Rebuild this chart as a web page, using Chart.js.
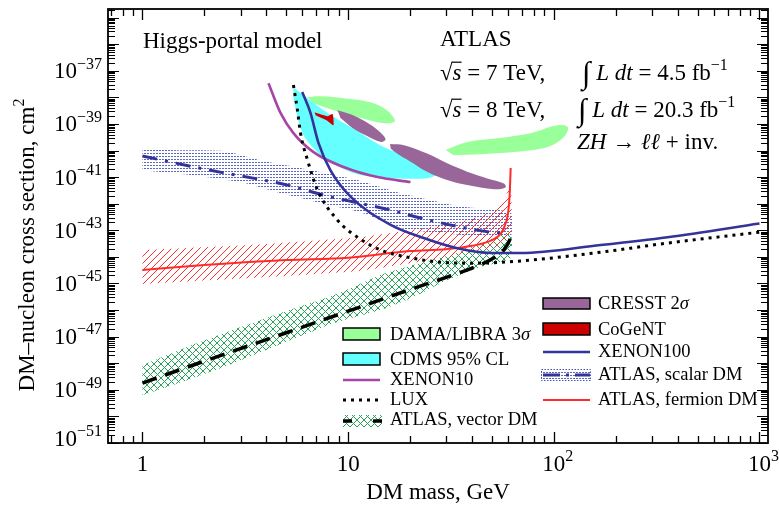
<!DOCTYPE html>
<html lang="en">
<head>
<meta charset="UTF-8">
<title>Higgs-portal model: DM–nucleon cross section</title>
<script src="https://cdn.jsdelivr.net/npm/chart.js@4"></script>
<style>
  html, body { margin: 0; padding: 0; background: #fff; }
  #wrap { position: relative; width: 779px; height: 507px; }
</style>
</head>
<body>
<div id="wrap"><canvas id="dmChart"></canvas></div>
<script>
// values: DM mass in GeV, cross section in cm^2

// ATLAS, vector DM (dashed line + cross-hatched band)
const vectorMass  = [1, 2, 5, 10, 20, 30, 40, 50, 57, 61, 62.5];
const vectorSigma = [1.8e-49, 1.2e-48, 1.4e-47, 9.1e-47, 5.9e-46, 1.7e-45, 3.8e-45, 8.3e-45, 1.8e-44, 4.3e-44, 8e-44];
const vectorBandMass  = [1, 1.65, 2.77, 4.85, 8.49, 14.4, 23.3, 34, 45.6, 61.6, 61.6, 44, 30.4, 20.8, 14.4, 8.49, 4.85, 2.77, 1.65, 1];
const vectorBandSigma = [8.5e-49, 4.1e-48, 1.8e-47, 8.4e-47, 3.6e-46, 2.1e-45, 6.4e-45, 1.4e-44, 3.6e-44, 8.5e-44,
                         8.9e-45, 4.2e-45, 1.35e-45, 3.1e-46, 1.0e-46, 3.2e-47, 5.8e-48, 1.0e-48, 2.3e-49, 6.3e-50];

// ATLAS, fermion DM (solid red line + hatched band)
const fermionMass  = [1, 2, 5, 10, 20, 30, 40, 50, 55, 58, 60, 61, 61.7];
const fermionSigma = [3.2e-45, 4.9e-45, 7.6e-45, 9.3e-45, 1.65e-44, 1.95e-44, 2.6e-44, 4.3e-44, 7.2e-44, 1.6e-43, 4.8e-43, 2.1e-42, 2.2e-41];
const fermionBandMass  = [1, 3.3, 11.3, 23, 35, 49, 57, 60.3, 62, 62, 52, 40, 29, 20, 11, 3.3, 1];
const fermionBandSigma = [1.8e-44, 2.8e-44, 5.5e-44, 1.2e-43, 2.0e-43, 4.8e-43, 1.4e-42, 3.3e-42, 3.3e-42,
                          5.5e-44, 2.3e-44, 1.5e-44, 8.9e-45, 5.8e-45, 2.9e-45, 1.6e-45, 9.5e-46];

// ATLAS, scalar DM (dash-dot line + dotted band)
const scalarMass  = [1, 2.14, 5.07, 7.6, 16.1, 23.8, 34, 49.3, 58.3];
const scalarSigma = [6.2e-41, 1.8e-41, 5.0e-42, 2.1e-42, 5.7e-43, 2.6e-43, 1.4e-43, 8.5e-44, 7.8e-44];
const scalarBandMass  = [1, 2.48, 3.88, 5.87, 11.1, 18, 34, 61.6, 61.6, 31.5, 18, 11.5, 7.34, 4.69, 3.0, 1.71, 1];
const scalarBandSigma = [1.05e-40, 9.6e-41, 4.0e-41, 2.2e-41, 7.8e-42, 2.5e-42, 8.1e-43, 4.8e-43,
                         6.0e-44, 7.2e-44, 1.2e-43, 4.8e-43, 1.05e-42, 2.5e-42, 6.5e-42, 1.2e-41, 1.8e-41];

// direct detection limits
const xenon100Mass  = [5.98, 6.56, 7.18, 8.21, 10.3, 16.1, 23.3, 34, 49.3, 68.9, 169, 357, 1000];
const xenon100Sigma = [1.6e-38, 2.6e-39, 1.9e-40, 1.8e-41, 1.8e-42, 1.6e-43, 5.1e-44, 2.1e-44, 1.4e-44, 1.4e-44, 2.8e-44, 5.5e-44, 1.8e-43];
const luxMass  = [5.42, 5.67, 5.87, 6.35, 7.10, 8.88, 11.1, 14.4, 19.4, 28.1, 40.7, 68.9, 169, 357, 1000];
const luxSigma = [2.9e-38, 3.3e-39, 4.5e-40, 4.3e-41, 3.3e-42, 2.4e-43, 5.5e-44, 1.8e-44, 9.8e-45, 6.3e-45, 5.8e-45, 7.0e-45, 1.5e-44, 3.3e-44, 8.5e-44];
const xenon10Mass  = [4.10, 4.69, 5.42, 6.79, 9.5, 13.9, 20.1];
const xenon10Sigma = [3.4e-38, 2.6e-39, 4.5e-40, 8.7e-41, 2.4e-41, 1.0e-41, 6.5e-42];

// signal regions (closed contours)
const cdmsMass  = [5.42, 6.35, 7.94, 10.3, 14.9, 21.7, 26.0, 27.5, 24.3, 16.6, 11.5, 8.68, 7.18, 6.14, 5.67, 5.42];
const cdmsSigma = [2.4e-38, 9.3e-39, 2.6e-39, 7.6e-40, 1.35e-40, 4.4e-41, 2.1e-41, 1.4e-41, 9.1e-42, 9.1e-42, 1.2e-41, 2.8e-41, 7.9e-41, 3.2e-40, 1.8e-39, 1.0e-38];
const cogentMass  = [6.87, 7.94, 8.40, 8.49, 7.94, 6.95];
const cogentSigma = [2.75e-39, 1.95e-39, 2.35e-39, 8.9e-40, 1.3e-39, 2.1e-39];
const cresstAMass  = [8.88, 10.3, 12.2, 14.1, 15.2, 14.5, 12.3, 10.5, 9.18];
const cresstASigma = [3.3e-39, 2.3e-39, 1.2e-39, 5.4e-40, 2.7e-40, 2.1e-40, 3.6e-40, 7.1e-40, 1.66e-39];
const cresstBMass  = [16.0, 18.7, 24.2, 30.3, 37.9, 47.5, 57.2, 58.3, 51.2, 37.9, 30.3, 24.2, 20.1, 17.3, 16.1];
const cresstBSigma = [1.74e-40, 1.58e-40, 7.7e-41, 3.3e-41, 1.6e-41, 8.9e-42, 5.7e-42, 4.1e-42, 3.5e-42, 5.0e-42, 7.8e-42, 1.6e-41, 3.8e-41, 7.7e-41, 1.2e-40];
const damaAMass  = [6.35, 7.34, 9.5, 12.8, 15.2, 16.6, 16.8, 14.9, 11.5, 8.21, 6.79];
const damaASigma = [1.02e-38, 1.1e-38, 9.3e-39, 6.6e-39, 3.6e-39, 1.8e-39, 1.2e-39, 1.07e-39, 1.66e-39, 3.6e-39, 6.0e-39];
const damaBMass  = [29.8, 38.1, 53.3, 77.1, 104, 117, 112, 93.3, 63.7, 44.0, 32.6];
const damaBSigma = [1.05e-40, 2.1e-40, 2.9e-40, 4.5e-40, 8.9e-40, 7.6e-40, 3.2e-40, 1.35e-40, 8.7e-41, 7.3e-41, 6.7e-41];

// axis ticks
const xTickValues = [1, 10, 100, 1000];
const xTickExps   = ['', '', '2', '3'];
const yTickExps   = [-51, -49, -47, -45, -43, -41, -39, -37];

const fontStack = '"Liberation Serif", "DejaVu Serif", serif';
const canvas = document.getElementById('dmChart');
const ctx0 = canvas.getContext('2d');

function makePattern(size, draw) {
  const c = document.createElement('canvas');
  c.width = size; c.height = size;
  draw(c.getContext('2d'), size);
  return ctx0.createPattern(c, 'repeat');
}
const redHatch = makePattern(7, (g, s) => {
  g.strokeStyle = '#ff3030'; g.lineWidth = 1;
  g.beginPath();
  g.moveTo(0, s); g.lineTo(s, 0);
  g.moveTo(-1, 1); g.lineTo(1, -1);
  g.moveTo(s - 1, s + 1); g.lineTo(s + 1, s - 1);
  g.stroke();
});
const greenCross = makePattern(7, (g, s) => {
  g.strokeStyle = '#27a357'; g.lineWidth = 1;
  g.beginPath();
  g.moveTo(0, s); g.lineTo(s, 0);
  g.moveTo(0, 0); g.lineTo(s, s);
  g.stroke();
});
const blueDots = makePattern(3, (g) => {
  g.fillStyle = '#5a68c4';
  g.fillRect(0, 0, 2, 1);
});

function pts(ms, ss) { return ms.map((m, i) => ({x: m, y: ss[i]})); }

function lineSet(label, ms, ss, color, width, dash) {
  return {label, data: pts(ms, ss), borderColor: color, borderWidth: width, borderDash: dash || [],
          pointRadius: 0, fill: false, cubicInterpolationMode: 'monotone'};
}
function shapeSet(label, ms, ss, fillStyle, tension) {
  return {label, data: pts(ms, ss), borderColor: 'rgba(0,0,0,0)', borderWidth: 1, backgroundColor: fillStyle,
          fill: 'shape', pointRadius: 0, tension: tension};
}

// first dataset is drawn on top
const datasets = [
  shapeSet('CoGeNT', cogentMass, cogentSigma, '#cc0000', 0.2),
  lineSet('XENON100', xenon100Mass, xenon100Sigma, '#333399', 2.6),
  lineSet('LUX', luxMass, luxSigma, '#000000', 3, [3, 5]),
  lineSet('XENON10', xenon10Mass, xenon10Sigma, '#a645a6', 2.6),
  lineSet('ATLAS, fermion DM', fermionMass, fermionSigma, '#ff2a2a', 2),
  lineSet('ATLAS, scalar DM', scalarMass, scalarSigma, '#333399', 3, [15, 8, 3, 8]),
  lineSet('ATLAS, vector DM', vectorMass, vectorSigma, '#000000', 3.5, [15, 9]),
  shapeSet('CRESST 2σ', cresstAMass, cresstASigma, '#996699', 0.35),
  shapeSet('CRESST 2σ', cresstBMass, cresstBSigma, '#996699', 0.35),
  shapeSet('DAMA/LIBRA 3σ', damaAMass, damaASigma, '#99ff99', 0.35),
  shapeSet('DAMA/LIBRA 3σ', damaBMass, damaBSigma, '#99ff99', 0.35),
  shapeSet('CDMS 95% CL', cdmsMass, cdmsSigma, '#66ffff', 0.3),
  shapeSet('fermion band', fermionBandMass, fermionBandSigma, redHatch, 0.15),
  shapeSet('vector band', vectorBandMass, vectorBandSigma, greenCross, 0.15),
  shapeSet('scalar band', scalarBandMass, scalarBandSigma, blueDots, 0.15)
];

function setFont(ctx, size, italic) {
  ctx.font = (italic ? 'italic ' : '') + size + 'px ' + fontStack;
}
// parts: [text, flags]  flags: i = italic, s = superscript, o = overline, b = big symbol
function partSize(f, size) {
  if (f.includes('s')) return Math.round(size * 0.7);
  if (f.includes('b')) return Math.round(size * 1.35);
  return size;
}
function rich(ctx, x, y, parts, size, align) {
  const widths = parts.map(([t, f = '']) => {
    setFont(ctx, partSize(f, size), f.includes('i'));
    return ctx.measureText(t).width;
  });
  const total = widths.reduce((a, b) => a + b, 0);
  let cx = align === 'right' ? x - total : align === 'center' ? x - total / 2 : x;
  parts.forEach(([t, f = ''], i) => {
    setFont(ctx, partSize(f, size), f.includes('i'));
    let yy = y;
    if (f.includes('s')) yy = y - size * 0.42;
    if (f.includes('b')) yy = y + size * 0.12;
    ctx.fillText(t, cx, yy);
    if (f.includes('o')) ctx.fillRect(cx - 1, y - size * 0.8, widths[i] + 1, 1.2);
    cx += widths[i];
  });
  return total;
}

const findSet = (chart, label) => chart.data.datasets.find(d => d.label === label);

const decorations = {
  id: 'decorations',
  afterDatasetsDraw(chart) {
    const {ctx, chartArea: a, scales: {x, y}} = chart;
    ctx.save();
    ctx.textAlign = 'left';
    ctx.textBaseline = 'alphabetic';
    ctx.fillStyle = '#000';
    ctx.strokeStyle = '#000';

    // inward tick marks on all four sides
    ctx.lineWidth = 1.3;
    ctx.beginPath();
    for (let d = -1; d <= 3; d++) {
      for (let k = 1; k <= 9; k++) {
        const v = k * Math.pow(10, d);
        if (v <= x.min || v >= x.max) continue;
        const px = Math.round(x.getPixelForValue(v)) + 0.5;
        const len = k === 1 ? 11 : 7;
        ctx.moveTo(px, a.bottom); ctx.lineTo(px, a.bottom - len);
        ctx.moveTo(px, a.top); ctx.lineTo(px, a.top + len);
      }
    }
    ctx.stroke();
    ctx.lineWidth = 1.1;
    ctx.beginPath();
    for (let d = -51; d <= -35; d++) {
      for (let k = 1; k <= 9; k++) {
        const lv = d + Math.log10(k);
        if (lv < -51 - 1e-9 || lv > Math.log10(y.max)) continue;
        const py = Math.round(y.getPixelForValue(Math.pow(10, lv))) + 0.5;
        const len = k === 1 ? 11 : 7;
        ctx.moveTo(a.left, py); ctx.lineTo(a.left + len, py);
        ctx.moveTo(a.right, py); ctx.lineTo(a.right - len, py);
      }
    }
    ctx.stroke();
    ctx.lineWidth = 1.8;
    ctx.strokeRect(a.left, a.top, a.right - a.left, a.bottom - a.top);

    // tick labels
    yTickExps.forEach(e => {
      const py = y.getPixelForValue(Math.pow(10, e));
      rich(ctx, 102, Math.min(py + 7.5, 446), [['10'], ['−' + Math.abs(e), 's']], 23, 'right');
    });
    xTickValues.forEach((v, i) => {
      const px = x.getPixelForValue(v);
      const base = v === 1 ? '1' : '10';
      setFont(ctx, 23, false);
      const w = ctx.measureText(base).width;
      rich(ctx, px - w / 2, 471, xTickExps[i] ? [[base], [xTickExps[i], 's']] : [[base]], 23, 'left');
    });

    // axis titles
    rich(ctx, (a.left + a.right) / 2, 499, [['DM mass, GeV']], 23, 'center');
    ctx.save();
    ctx.translate(34, 245);
    ctx.rotate(-Math.PI / 2);
    rich(ctx, 0, 0, [['DM–nucleon cross section, cm'], ['2', 's']], 23, 'center');
    ctx.restore();

    // annotations
    rich(ctx, 143, 48, [['Higgs-portal model']], 23);
    rich(ctx, 440, 46, [['ATLAS']], 23);
    rich(ctx, 440, 80, [['√'], ['s', 'io'], [' = 7 TeV,']], 23);
    rich(ctx, 582, 80, [['∫', 'b'], [' '], ['L', 'i'], [' '], ['dt', 'i'], [' = 4.5 fb'], ['−1', 's']], 23);
    rich(ctx, 440, 117, [['√'], ['s', 'io'], [' = 8 TeV,']], 23);
    rich(ctx, 578, 117, [['∫', 'b'], [' '], ['L', 'i'], [' '], ['dt', 'i'], [' = 20.3 fb'], ['−1', 's']], 23);
    rich(ctx, 577, 149, [['ZH', 'i'], [' → '], ['ℓℓ', 'i'], [' + inv.']], 23);

    // legend helpers
    const box = (bx, by, w, h, fill) => {
      ctx.fillStyle = fill; ctx.fillRect(bx, by, w, h);
      ctx.lineWidth = 1.5; ctx.strokeStyle = '#000'; ctx.setLineDash([]);
      ctx.strokeRect(bx, by, w, h);
      ctx.fillStyle = '#000';
    };
    const seg = (x1, x2, yy, ds, dash) => {
      ctx.beginPath();
      ctx.strokeStyle = ds.borderColor; ctx.lineWidth = ds.borderWidth;
      ctx.setLineDash(dash || ds.borderDash || []);
      ctx.moveTo(x1, yy); ctx.lineTo(x2, yy); ctx.stroke();
      ctx.setLineDash([]);
    };
    const lt = 18.5;

    // legend, left column
    box(343, 328, 37, 12, findSet(chart, 'DAMA/LIBRA 3σ').backgroundColor);
    rich(ctx, 390, 340, [['DAMA/LIBRA 3'], ['σ', 'i']], lt);
    box(343, 353, 37, 12, findSet(chart, 'CDMS 95% CL').backgroundColor);
    rich(ctx, 390, 365, [['CDMS 95% CL']], lt);
    seg(343, 380, 380, findSet(chart, 'XENON10'));
    rich(ctx, 390, 385, [['XENON10']], lt);
    seg(343, 380, 400, findSet(chart, 'LUX'));
    rich(ctx, 390, 405, [['LUX']], lt);
    ctx.fillStyle = findSet(chart, 'vector band').backgroundColor;
    ctx.fillRect(343, 415, 39, 12);
    ctx.fillStyle = '#000';
    seg(343, 382, 421, findSet(chart, 'ATLAS, vector DM'), [9, 21]);
    rich(ctx, 390, 425, [['ATLAS, vector DM']], lt);

    // legend, right column
    box(543, 298, 47, 11, findSet(chart, 'CRESST 2σ').backgroundColor);
    rich(ctx, 598, 309, [['CRESST 2'], ['σ', 'i']], lt);
    box(543, 323, 47, 12, findSet(chart, 'CoGeNT').backgroundColor);
    rich(ctx, 598, 335, [['CoGeNT']], lt);
    seg(543, 590, 352, findSet(chart, 'XENON100'));
    rich(ctx, 598, 357, [['XENON100']], lt);
    ctx.fillStyle = findSet(chart, 'scalar band').backgroundColor;
    ctx.fillRect(541, 370, 50, 10);
    ctx.strokeStyle = '#4655b5'; ctx.lineWidth = 1; ctx.setLineDash([1.5, 1.5]);
    ctx.strokeRect(541.5, 369.5, 49, 11);
    ctx.setLineDash([]);
    ctx.fillStyle = '#000';
    seg(543, 590, 375, findSet(chart, 'ATLAS, scalar DM'), [17, 6, 3, 6]);
    rich(ctx, 598, 380, [['ATLAS, scalar DM']], lt);
    seg(543, 590, 400, findSet(chart, 'ATLAS, fermion DM'));
    rich(ctx, 598, 405, [['ATLAS, fermion DM']], lt);

    ctx.restore();
  }
};

new Chart(canvas, {
  type: 'line',
  data: {datasets},
  options: {
    responsive: true,
    maintainAspectRatio: false,
    animation: false,
    events: [],
    layout: {padding: {top: 9, right: 11, left: 0, bottom: 0}},
    plugins: {legend: {display: false}, tooltip: {enabled: false}},
    scales: {
      x: {
        type: 'logarithmic', min: 0.68, max: 1100,
        grid: {display: false}, border: {display: false},
        ticks: {display: false},
        afterFit: s => { s.height = 64; }
      },
      y: {
        type: 'logarithmic', min: 1e-51, max: 2.1e-35,
        grid: {display: false}, border: {display: false},
        ticks: {display: false},
        afterFit: s => { s.width = 108; }
      }
    }
  },
  plugins: [decorations]
});
</script>
</body>
</html>
